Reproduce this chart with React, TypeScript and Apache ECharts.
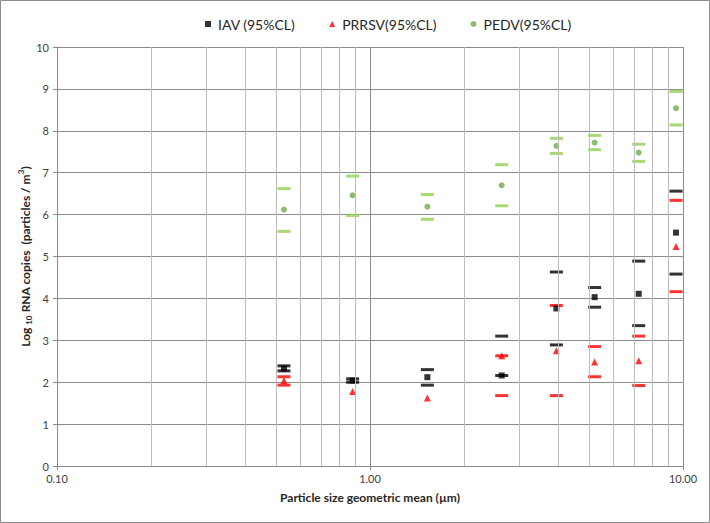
import React, { useEffect, useRef } from "react";
import * as echarts from "echarts";

const sizes = [0.531, 0.88, 1.525, 2.635, 3.94, 5.22, 7.22, 9.5];

const iavMean = [2.33, 2.04, 2.12, 2.16, 3.76, 4.03, 4.11, 5.57];
const iavUpper = [2.39, 2.08, 2.3, 3.1, 4.63, 4.26, 4.89, 6.56];
const iavLower = [2.27, 2.0, 1.93, 2.16, 2.89, 3.79, 3.35, 4.58];

const prrsvMean = [2.04, 1.78, 1.62, 2.63, 2.75, 2.48, 2.51, 5.24];
const prrsvUpper = [2.13, null, null, 2.63, 3.83, 2.85, 3.1, 6.34];
const prrsvLower = [1.93, null, null, 1.68, 1.68, 2.13, 1.92, 4.16];

const pedvMean = [6.12, 6.46, 6.19, 6.7, 7.64, 7.72, 7.48, 8.54];
const pedvUpper = [6.62, 6.92, 6.48, 7.19, 7.82, 7.89, 7.68, 8.94];
const pedvLower = [5.6, 5.98, 5.89, 6.21, 7.46, 7.55, 7.27, 8.14];

const minorGrid = [0.2, 0.3, 0.4, 0.5, 0.6, 0.7, 0.8, 0.9, 2, 3, 4, 5, 6, 7, 8, 9];

const seriesNames = ["IAV (95%CL)", "PRRSV(95%CL)", "PEDV(95%CL)"];

const FONT = "Lato";

function pairs(xs: number[], ys: (number | null)[]) {
  const out: number[][] = [];
  xs.forEach((x, i) => {
    const y = ys[i];
    if (y !== null && y !== undefined) out.push([x, y]);
  });
  return out;
}

export default function App() {
  const ref = useRef<HTMLDivElement>(null);
  useEffect(() => {
    if (!ref.current) return;
    const chart = echarts.init(ref.current, undefined, { renderer: "svg" });
    const dash = (name: string, ys: (number | null)[], color: string) => ({
      type: "scatter",
      name: name + "-cl",
      data: pairs(sizes, ys),
      symbol: "rect",
      symbolSize: [13, 3],
      itemStyle: { color },
      z: 3,
      silent: true,
    });
    chart.setOption({
      animation: false,
      backgroundColor: "#ffffff",
      textStyle: { fontFamily: FONT },
      graphic: [
        {
          type: "rect",
          shape: { x: 0.5, y: 0.5, width: 709, height: 522 },
          style: { fill: "none", stroke: "#8c8c8c", lineWidth: 1 },
          silent: true,
        },
      ],
      legend: {
        data: [
          { name: seriesNames[0], icon: "rect" },
          { name: seriesNames[1], icon: "triangle" },
          { name: seriesNames[2], icon: "circle" },
        ],
        top: 12,
        left: 200,
        itemWidth: 6,
        itemHeight: 6,
        itemGap: 34,
        textStyle: { fontFamily: FONT, fontSize: 14, color: "#262626", padding: [0, 0, 0, 2] },
        selectedMode: false,
      },
      grid: { left: 57, right: 27, top: 47, bottom: 57, containLabel: false },
      xAxis: {
        type: "log",
        logBase: 10,
        min: 0.1,
        max: 10,
        name: "Particle size geometric mean (\u00b5m)",
        nameLocation: "middle",
        nameGap: 25,
        nameMoveOverlap: false,
        nameTextStyle: { fontFamily: FONT, fontSize: 12, fontWeight: "bold", color: "#262626" },
        axisLine: { show: true, lineStyle: { color: "#8c8c8c" } },
        axisTick: { show: true, length: 4, lineStyle: { color: "#8c8c8c" } },
        axisLabel: {
          fontFamily: FONT,
          fontSize: 11,
          color: "#404040",
          margin: 7,
          formatter: (v: number) => Number(v).toFixed(2),
        },
        splitLine: { show: true, lineStyle: { color: "#8c8c8c", width: 1 } },
      },
      yAxis: {
        type: "value",
        min: 0,
        max: 10,
        interval: 1,
        name: "{b|Log }{s|10}{b| RNA copies  (particles / m}{p|3}{b|)}",
        nameLocation: "middle",
        nameRotate: 90,
        nameGap: 24,
        nameMoveOverlap: false,
        nameTextStyle: {
          fontFamily: FONT,
          color: "#262626",
          rich: {
            b: { fontFamily: FONT, fontSize: 12, fontWeight: "bold", color: "#262626", lineHeight: 16, verticalAlign: "middle" },
            s: { fontFamily: FONT, fontSize: 8, fontWeight: "bold", color: "#262626", lineHeight: 16, verticalAlign: "bottom" },
            p: { fontFamily: FONT, fontSize: 8, fontWeight: "bold", color: "#262626", lineHeight: 16, verticalAlign: "top" },
          },
        },
        axisLine: { show: true, lineStyle: { color: "#8c8c8c" } },
        axisTick: { show: true, length: 4, lineStyle: { color: "#8c8c8c" } },
        axisLabel: { fontFamily: FONT, fontSize: 11, color: "#404040", margin: 8 },
        splitLine: { show: true, lineStyle: { color: "#8c8c8c", width: 1 } },
      },
      series: [
        {
          type: "line",
          name: "minor-grid",
          data: [],
          silent: true,
          markLine: {
            silent: true,
            symbol: "none",
            label: { show: false },
            lineStyle: { color: "#bdbdbd", type: "solid", width: 1 },
            data: minorGrid.map((v) => ({ xAxis: v })),
          },
          z: 1,
        },
        dash("PEDV", pedvUpper, "#92D050"),
        dash("PEDV", pedvLower, "#92D050"),
        dash("PRRSV", prrsvUpper, "#FF0000"),
        dash("PRRSV", prrsvLower, "#FF0000"),
        dash("IAV", iavUpper, "#000000"),
        dash("IAV", iavLower, "#000000"),
        {
          type: "scatter",
          name: seriesNames[0],
          data: pairs(sizes, iavMean),
          symbol: "rect",
          symbolSize: 6,
          itemStyle: { color: "#000000" },
          z: 4,
        },
        {
          type: "scatter",
          name: seriesNames[1],
          data: pairs(sizes, prrsvMean),
          symbol: "triangle",
          symbolSize: 7,
          itemStyle: { color: "#FF0000" },
          z: 4,
        },
        {
          type: "scatter",
          name: seriesNames[2],
          data: pairs(sizes, pedvMean),
          symbol: "circle",
          symbolSize: 6,
          itemStyle: { color: "#70AD47" },
          z: 4,
        },
      ],
    });
    return () => chart.dispose();
  }, []);
  return (
    <div
      ref={ref}
      style={{ position: "fixed", left: 0, top: 0, width: 710, height: 523 }}
    />
  );
}
